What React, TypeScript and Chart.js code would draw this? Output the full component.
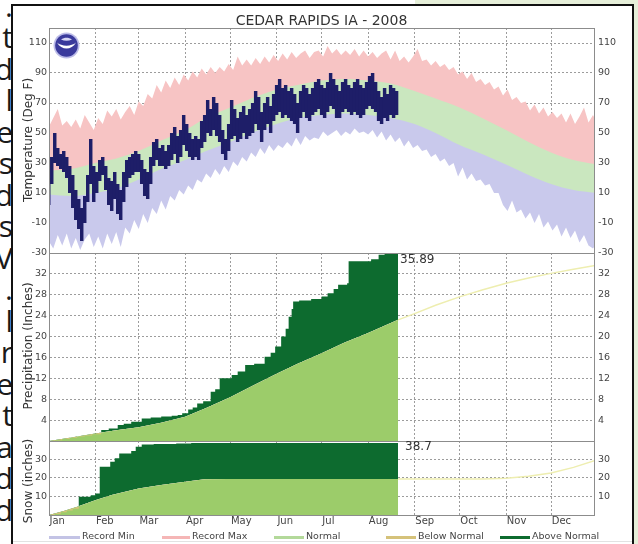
import React, { useEffect, useRef } from 'react';
import { Chart, registerables } from 'chart.js';

Chart.register(...registerables);

const FONT = "'DejaVu Sans', 'Bitstream Vera Sans', sans-serif";

// ---------- axis / tick data ----------
const monthNames = ['Jan', 'Feb', 'Mar', 'Apr', 'May', 'Jun', 'Jul', 'Aug', 'Sep', 'Oct', 'Nov', 'Dec'];
const monthStartDays = [0, 31, 60, 91, 121, 152, 182, 213, 244, 274, 305, 335];
const tempTicks = [-30, -10, 10, 30, 50, 70, 90, 110];
const precipTicks = [4, 8, 12, 16, 20, 24, 28, 32];
const snowTicks = [10, 20, 30];

// ---------- temperature (deg F) ----------
const recordStep = 3; // one value every 3 days, day 0..366
const recordMax = [
  54, 60, 66, 55, 58, 54, 59, 53, 62, 57,
  52, 60, 56, 65, 61, 66, 59, 64, 68, 62,
  71, 68, 76, 73, 82, 77, 85, 80, 87, 82,
  89, 85, 91, 87, 93, 89, 94, 90, 94, 91,
  96, 92, 101, 95, 99, 95, 100, 96, 101, 97,
  102, 98, 103, 99, 104, 100, 103, 105, 100, 104,
  105, 101, 108, 103, 106, 102, 105, 102, 106, 101,
  105, 101, 104, 100, 103, 105, 99, 105, 98, 101,
  97, 101, 106, 98, 99, 95, 98, 94, 96, 92,
  94, 89, 91, 86, 90, 84, 86, 82, 84, 79,
  81, 75, 79, 72, 74, 70, 71, 65, 69, 63,
  67, 61, 64, 60, 63, 57, 63, 56, 61, 67,
  57, 62, 56,
];
const recordMin = [
  -22, -27, -18, -25, -17, -27, -20, -28, -21, -17,
  -26, -19, -27, -17, -24, -16, -26, -13, -17, -8,
  -14, -4, -10, 0, -4, 5, -1, 8, 5, 12,
  9, 15, 12, 19, 17, 23, 20, 26, 22, 28,
  24, 31, 28, 34, 31, 37, 34, 40, 36, 42,
  38, 42, 40, 44, 41, 47, 42, 48, 45, 47,
  46, 51, 48, 50, 52, 48, 51, 49, 53, 50,
  51, 49, 52, 47, 51, 45, 49, 44, 47, 41,
  45, 40, 42, 38, 39, 34, 36, 31, 33, 28,
  30, 21, 27, 19, 23, 18, 19, 15, 16, 10,
  10, 2, -2, 5, -3, -1, -7, -3, -10, -4,
  -13, -9, -15, -11, -19, -13, -20, -15, -23, -18,
  -25, -27, -23,
];
const normalTempDays = [0, 15, 31, 45, 60, 75, 91, 105, 121, 135, 152, 166, 182, 197, 213, 228, 244, 258, 274, 289, 305, 320, 335, 350, 366];
const normalHigh = [25, 26, 30, 33, 38, 45, 52, 60, 67, 73, 79, 82, 85, 86, 85, 83, 78, 73, 67, 60, 52, 44, 37, 32, 29];
const normalLow = [9, 8, 10, 13, 19, 26, 32, 38, 44, 50, 56, 60, 62, 63, 62, 60, 56, 50, 42, 36, 29, 22, 16, 12, 10];

const dailyStep = 2; // observed 2008 values, every 2 days from Jan 1
const dailyHigh = [
  20, 34, 50, 40, 36, 38, 34, 28, 22, 12,
  6, 0, 8, 22, 46, 28, 24, 32, 34, 28,
  20, 18, 24, 16, 12, 24, 32, 34, 36, 38,
  36, 32, 26, 24, 34, 44, 46, 40, 42, 38,
  42, 50, 54, 48, 52, 62, 56, 50, 46, 48,
  46, 58, 62, 72, 66, 74, 70, 62, 52, 46,
  56, 72, 66, 60, 64, 68, 62, 66, 70, 78,
  74, 64, 70, 74, 68, 76, 82, 86, 80, 82,
  78, 80, 76, 70, 78, 82, 80, 76, 80, 84,
  86, 82, 80, 84, 90, 86, 82, 78, 84, 86,
  82, 80, 84, 86, 82, 80, 84, 88, 90, 84,
  78, 74, 80, 76, 82, 80, 78,
];
const dailyLow = [
  2, 16, 30, 28, 26, 24, 20, 10, 0, -8,
  -14, -22, -10, 4, 16, 4, 10, 18, 22, 12,
  2, -2, 6, -4, -8, 4, 14, 20, 22, 24,
  24, 16, 8, 6, 16, 28, 32, 28, 28, 26,
  28, 32, 36, 30, 34, 42, 38, 34, 32, 34,
  32, 40, 44, 50, 48, 52, 48, 44, 36, 32,
  38, 46, 48, 44, 46, 50, 46, 48, 50, 56,
  52, 44, 52, 56, 50, 58, 62, 64, 60, 62,
  60, 58, 56, 50, 60, 64, 60, 58, 62, 64,
  66, 62, 60, 64, 68, 66, 60, 60, 64, 66,
  64, 62, 64, 62, 60, 62, 66, 68, 66, 64,
  58, 56, 60, 58, 62, 60, 62,
];

// ---------- precipitation (inches, cumulative) ----------
const precipActualDays = [0, 4, 9, 14, 19, 24, 29, 35, 40, 46, 50, 55, 62, 68, 75, 82, 86, 89, 93, 96, 99, 103, 108, 111, 114, 122, 126, 131, 137, 144, 148, 151, 155, 158, 160, 162, 163, 167, 175, 182, 186, 190, 193, 199, 200, 215, 220, 224, 233];
const precipActual = [0, 0.15, 0.4, 0.6, 0.85, 1.05, 1.3, 2.1, 2.4, 3.05, 3.3, 3.7, 4.3, 4.5, 4.7, 4.85, 5.0, 5.3, 6.05, 6.4, 7.2, 7.6, 9.45, 9.9, 12.0, 12.65, 13.3, 14.55, 14.8, 16.15, 16.9, 18.1, 20.0, 21.5, 23.8, 25.3, 26.7, 26.9, 27.2, 27.65, 28.3, 29.1, 29.9, 30.2, 34.4, 34.8, 35.65, 35.89, 35.89];
const precipNormalDays = [0, 15, 31, 45, 60, 75, 91, 105, 121, 137, 152, 166, 182, 197, 213, 233, 244, 258, 274, 289, 305, 320, 335, 350, 366];
const precipNormal = [0, 0.65, 1.45, 2.05, 2.65, 3.5, 4.65, 6.3, 8.4, 10.7, 12.9, 14.8, 16.8, 18.8, 20.7, 23.2, 24.4, 26.0, 27.6, 28.9, 30.2, 31.2, 32.1, 32.9, 33.7];

// ---------- snow (inches, cumulative) ----------
const snowActualDays = [0, 4, 8, 12, 16, 20, 28, 31, 34, 41, 44, 47, 55, 58, 62, 70, 85, 95, 233];
const snowActual = [0, 0.6, 1.5, 2.4, 3.3, 9.8, 10.6, 11.6, 26.0, 28.7, 30.5, 33.1, 34.4, 36.7, 37.9, 38.2, 38.5, 38.7, 38.7];
const snowNormalDays = [0, 10, 19, 31, 42, 60, 75, 91, 104, 120, 233, 244, 274, 290, 305, 320, 335, 350, 366];
const snowNormal = [0, 2.2, 4.4, 8.0, 10.7, 14.3, 16.1, 17.9, 19.2, 19.3, 19.3, 19.3, 19.3, 19.4, 19.7, 20.8, 22.6, 25.6, 29.7];

const DATA_END_DAY = 233;
const X_MIN = 0.5;
const X_MAX = 364;

// ---------- styling ----------
const C = {
  pink: '#f7c4c4',
  green: '#cae7bf',
  lav: '#c9c9ec',
  navy: '#1e1e68',
  dark: '#0d6b2f',
  light: '#9ccc6a',
  tan: '#d5c27a',
  pale: '#eeeeb0',
  grid: '#9c9c9c',
  tick: '#444',
  frame: '#8c8c8c',
};
const LEFT_W = 49.5;
const RIGHT_W = 43.5;
const TRANSPARENT = 'rgba(0,0,0,0)';

const pts = (days: number[], vals: number[]) => days.map((d, i) => ({ x: d, y: vals[i] }));
const stepPts = (step: number, vals: number[]) => vals.map((v, i) => ({ x: i * step, y: v }));

const panelFrame = {
  id: 'panelFrame',
  afterDraw(chart: any) {
    const { ctx, chartArea: a } = chart;
    const l = Math.floor(a.left) + 0.5;
    const t = Math.floor(a.top) + 0.5;
    const r = Math.floor(a.right) + 0.5;
    const b = Math.floor(a.bottom) + 0.5;
    ctx.save();
    ctx.strokeStyle = C.frame;
    ctx.lineWidth = 1;
    ctx.strokeRect(l, t, r - l, b - t);
    ctx.restore();
  },
};

const endLabel = {
  id: 'endLabel',
  afterDraw(chart: any, _args: any, opts: any) {
    if (!opts || opts.text == null) return;
    const meta = chart.getDatasetMeta(opts.datasetIndex);
    const pt = meta.data[meta.data.length - 1];
    if (!pt) return;
    const { ctx } = chart;
    ctx.save();
    ctx.font = `12px ${FONT}`;
    ctx.fillStyle = '#333';
    ctx.textAlign = 'left';
    ctx.textBaseline = 'top';
    ctx.fillText(opts.text, pt.x + opts.dx, pt.y + opts.dy);
    ctx.restore();
  },
};

function yScales(min: number, max: number, ticks: number[]) {
  const tickFont = { family: FONT, size: 9.5 };
  return {
    y: {
      type: 'linear', position: 'left', min, max, z: 1,
      afterBuildTicks: (s: any) => { s.ticks = ticks.map((v) => ({ value: v })); },
      afterFit: (s: any) => { s.width = LEFT_W; },
      grid: { color: C.grid, lineWidth: 1, drawTicks: false },
      border: { display: false, dash: [2, 2] },
      ticks: { font: tickFont, color: C.tick, padding: 2.5, autoSkip: false },
    },
    yR: {
      type: 'linear', position: 'right', min, max, z: 1,
      afterBuildTicks: (s: any) => { s.ticks = ticks.map((v) => ({ value: v })); },
      afterFit: (s: any) => { s.width = RIGHT_W; },
      grid: { display: false, drawTicks: false },
      border: { display: false },
      ticks: { font: tickFont, color: C.tick, padding: 3.5, autoSkip: false },
    },
  };
}

function xGrid() {
  return {
    type: 'linear', position: 'bottom', min: X_MIN, max: X_MAX, offset: false, z: 1,
    afterBuildTicks: (s: any) => { s.ticks = monthStartDays.slice(1).map((v) => ({ value: v })); },
    afterFit: (s: any) => { s.height = 0; },
    grid: { color: C.grid, lineWidth: 1, drawTicks: false, offset: false },
    border: { display: false, dash: [2, 2] },
    ticks: { display: false },
  };
}

function baseOptions(padTop: number, padBottom: number, scales: any, endLbl?: any) {
  return {
    responsive: false,
    animation: false,
    events: [],
    layout: { padding: { top: padTop, bottom: padBottom, left: 0, right: 0 } },
    plugins: {
      legend: { display: false },
      tooltip: { enabled: false },
      title: { display: false },
      endLabel: endLbl || {},
    },
    scales,
  };
}

const lineBase = { pointRadius: 0, borderWidth: 0, borderColor: TRANSPARENT, tension: 0 };

function tempConfig(): any {
  return {
    type: 'line',
    data: {
      datasets: [
        {
          type: 'bar',
          data: dailyHigh.map((h, i) => ({ x: i * dailyStep, y: [dailyLow[i], h] })),
          backgroundColor: C.navy, borderWidth: 0, barPercentage: 1.15, categoryPercentage: 1, order: 0,
        },
        { ...lineBase, data: stepPts(recordStep, recordMin), fill: 'start', backgroundColor: '#ffffff', order: 1 },
        { ...lineBase, data: pts(normalTempDays, normalLow), fill: 'start', backgroundColor: C.lav, cubicInterpolationMode: 'monotone', order: 2 },
        { ...lineBase, data: pts(normalTempDays, normalHigh), fill: 'start', backgroundColor: C.green, cubicInterpolationMode: 'monotone', order: 3 },
        { ...lineBase, data: stepPts(recordStep, recordMax), fill: 'start', backgroundColor: C.pink, order: 4 },
      ],
    },
    options: baseOptions(18, 17, { x: xGrid(), ...yScales(-30, 120, tempTicks) }),
    plugins: [panelFrame, endLabel],
  };
}

function cumulativeDatasets(actDays: number[], act: number[], normDays: number[], norm: number[]) {
  const normAll = pts(normDays, norm);
  return [
    {
      ...lineBase, data: pts(actDays, act), stepped: 'before',
      fill: { target: 1, above: C.dark, below: C.tan }, backgroundColor: C.dark, order: 0,
    },
    { ...lineBase, data: normAll.filter((p) => p.x <= DATA_END_DAY), fill: 'start', backgroundColor: C.light, order: 1 },
    { ...lineBase, data: normAll.filter((p) => p.x >= DATA_END_DAY), borderColor: C.pale, borderWidth: 1.5, fill: false, order: 2 },
  ];
}

function precipConfig(): any {
  return {
    type: 'line',
    data: { datasets: cumulativeDatasets(precipActualDays, precipActual, precipNormalDays, precipNormal) },
    options: baseOptions(15, 14, { x: xGrid(), ...yScales(0, 36, precipTicks) },
      { datasetIndex: 0, text: String(precipActual[precipActual.length - 1]), dx: 2, dy: 0 }),
    plugins: [panelFrame, endLabel],
  };
}

function snowConfig(): any {
  return {
    type: 'line',
    data: { datasets: cumulativeDatasets(snowActualDays, snowActual, snowNormalDays, snowNormal) },
    options: baseOptions(15, 15, {
      x: xGrid(),
      xl: {
        type: 'linear', position: 'bottom', min: X_MIN, max: X_MAX, offset: false,
        afterBuildTicks: (s: any) => { s.ticks = monthStartDays.map((v) => ({ value: v + 0.5 })); },
        afterFit: (s: any) => { s.height = 14; },
        grid: { display: false, drawTicks: false },
        border: { display: false },
        ticks: {
          display: true, align: 'start', padding: 0, autoSkip: false, maxRotation: 0, minRotation: 0,
          font: { family: FONT, size: 10 }, color: C.tick,
          callback: (_v: any, i: number) => monthNames[i],
        },
      },
      ...yScales(0, 39.8, snowTicks),
    }, { datasetIndex: 0, text: String(snowActual[snowActual.length - 1]), dx: 7, dy: -2 }),
    plugins: [panelFrame, endLabel],
  };
}

const legendItems = [
  { label: 'Record Min', color: '#c3c3e5', sw: 49, sww: 31, tx: 82 },
  { label: 'Record Max', color: '#f5b6b6', sw: 162, sww: 28, tx: 192 },
  { label: 'Normal', color: '#b3d99a', sw: 274, sww: 30, tx: 306 },
  { label: 'Below Normal', color: '#d5c27a', sw: 386, sww: 30, tx: 418 },
  { label: 'Above Normal', color: '#0d6b2f', sw: 500, sww: 30, tx: 532 },
];

const sideLetters = ['.', 't', 'd', 'l', 'e', 's', 'd', 's', 'V', '.', 'l', 'r', 'e', 't', 'a', 'd', 'd'];

function VTitle({ text, cx, cy }: { text: string; cx: number; cy: number }) {
  return (
    <div
      style={{
        position: 'absolute', left: cx - 100, top: cy - 8, width: 200, height: 16,
        lineHeight: '16px', textAlign: 'center', fontSize: 12, color: '#333',
        transform: 'rotate(-90deg)', whiteSpace: 'nowrap', fontFamily: FONT,
      }}
    >
      {text}
    </div>
  );
}

export default function App() {
  const tRef = useRef<HTMLCanvasElement>(null);
  const pRef = useRef<HTMLCanvasElement>(null);
  const sRef = useRef<HTMLCanvasElement>(null);

  useEffect(() => {
    const charts = [
      new Chart(tRef.current as HTMLCanvasElement, tempConfig()),
      new Chart(pRef.current as HTMLCanvasElement, precipConfig()),
      new Chart(sRef.current as HTMLCanvasElement, snowConfig()),
    ];
    return () => charts.forEach((c) => c.destroy());
  }, []);

  const canvasStyle = (top: number): React.CSSProperties => ({ position: 'absolute', left: 0, top, display: 'block' });

  return (
    <div style={{ position: 'absolute', left: 0, top: 0, width: 638, height: 544, overflow: 'hidden', background: '#fff', fontFamily: FONT }}>
      {/* surrounding document */}
      <div style={{ position: 'absolute', left: 415, top: 0, width: 223, height: 5, background: '#e6efd9' }} />
      <div style={{ position: 'absolute', left: 634, top: 0, width: 4, height: 544, background: '#e6efd9' }} />
      <div style={{ position: 'absolute', left: -60, top: 0, width: 72, height: 544, overflow: 'hidden' }}>
        {sideLetters.map((ch, i) => (
          <div
            key={i}
            style={{
              position: 'absolute', right: -1, top: -10.5 + 31.5 * i, height: 31.5, lineHeight: '31.5px',
              fontSize: 30, fontFamily: "'Open Sans', sans-serif", color: '#1a1a1a', textAlign: 'right',
            }}
          >
            {ch}
          </div>
        ))}
      </div>

      {/* charts */}
      <canvas ref={tRef} width={638} height={260} style={canvasStyle(10)} />
      <canvas ref={pRef} width={638} height={217} style={canvasStyle(238)} />
      <canvas ref={sRef} width={638} height={118} style={canvasStyle(426)} />

      {/* title and axis titles */}
      <div style={{ position: 'absolute', left: 0, top: 12, width: 643, textAlign: 'center', fontSize: 14, lineHeight: '16px', color: '#333' }}>
        CEDAR RAPIDS IA - 2008
      </div>
      <VTitle text="Temperature (Deg F)" cx={27.5} cy={140} />
      <VTitle text="Precipitation (Inches)" cx={27.5} cy={346} />
      <VTitle text="Snow (inches)" cx={27.5} cy={481} />

      {/* NOAA logo */}
      <svg style={{ position: 'absolute', left: 53, top: 32 }} width={27} height={27} viewBox="-13.5 -13.5 27 27">
        <circle r={13} fill="#bcbce8" />
        <circle r={11.3} fill="#3a3a9c" />
        <path d="M -9.5 -3 C -5 5, 5 5, 9.5 -3 C 5 1.2, -5 1.2, -9.5 -3 Z" fill="#ffffff" />
        <path d="M -5.5 -6 C -2 -8.5, 2 -8.5, 5.5 -6 C 2 -4.2, -2 -4.2, -5.5 -6 Z" fill="#d6d6f4" />
      </svg>

      {/* legend */}
      {legendItems.map((it) => (
        <React.Fragment key={it.label}>
          <div style={{ position: 'absolute', left: it.sw, top: 536, width: it.sww, height: 3, background: it.color }} />
          <div style={{ position: 'absolute', left: it.tx, top: 529.5, fontSize: 9.5, lineHeight: '12px', color: '#444', whiteSpace: 'nowrap' }}>
            {it.label}
          </div>
        </React.Fragment>
      ))}
      <div style={{ position: 'absolute', left: 13, top: 541, width: 619, height: 1, background: '#e2e2e2' }} />

      {/* frame */}
      <div
        style={{
          position: 'absolute', left: 11, top: 4, width: 623, height: 560, boxSizing: 'border-box',
          borderLeft: '2px solid #111', borderTop: '2px solid #111', borderRight: '2px solid #111',
        }}
      />
    </div>
  );
}
